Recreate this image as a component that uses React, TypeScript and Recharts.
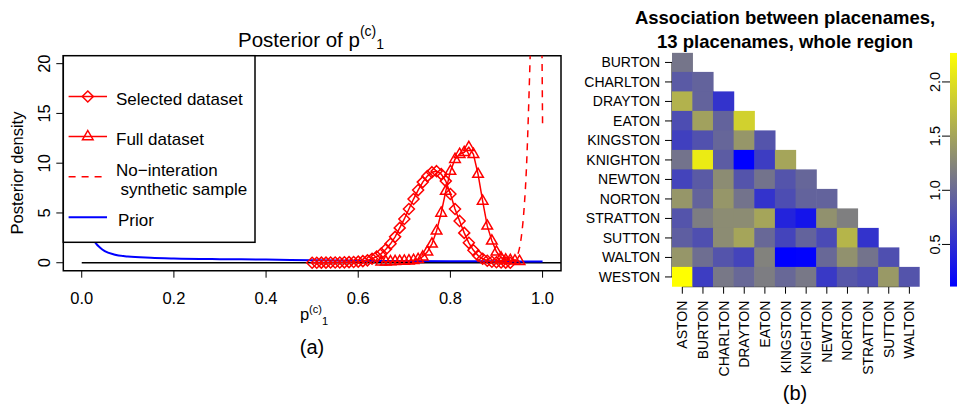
import React from 'react';
import {
  LineChart,
  Line,
  XAxis,
  YAxis,
  ReferenceArea,
  ReferenceLine,
  ScatterChart,
  Scatter,
  BarChart,
  Bar,
} from 'recharts';

const FONT = '"Liberation Sans", Arial, Helvetica, sans-serif';
const RED = '#ff0000';
const BLUE = '#0000ff';

// ---------- panel (a): posterior of p(c)1 ----------
const selectedX = [
  0.5, 0.51, 0.52, 0.53, 0.54, 0.55, 0.56, 0.57, 0.58, 0.59, 0.6, 0.61, 0.62, 0.63, 0.64,
  0.65, 0.66, 0.67, 0.68, 0.69, 0.7, 0.71, 0.72, 0.73, 0.74, 0.75, 0.76, 0.77, 0.78, 0.79,
  0.8, 0.81, 0.82, 0.83, 0.84, 0.85, 0.86, 0.87, 0.88, 0.89, 0.9, 0.91, 0.92, 0.93,
];
const selectedY = [
  0, 0, 0.01, 0.01, 0.02, 0.02, 0.03, 0.04, 0.06, 0.08, 0.11, 0.16, 0.24, 0.4, 0.62,
  0.92, 1.35, 1.9, 2.6, 3.5, 4.4, 5.4, 6.4, 7.3, 8.1, 8.7, 9.1, 9.2, 8.9, 8.2,
  6.9, 5.4, 4.2, 3.0, 2.0, 1.25, 0.72, 0.4, 0.2, 0.1, 0.05, 0.02, 0.01, 0,
];
const fullX = [
  0.65, 0.66, 0.67, 0.68, 0.69, 0.7, 0.71, 0.72, 0.73, 0.74, 0.75, 0.76, 0.77, 0.78, 0.79,
  0.8, 0.81, 0.82, 0.83, 0.84, 0.85, 0.86, 0.87, 0.88, 0.89, 0.9, 0.91, 0.92, 0.93, 0.94, 0.95,
];
const fullY = [
  0.1, 0.1, 0.12, 0.14, 0.16, 0.18, 0.2, 0.25, 0.35, 0.6, 1.1, 1.9, 3.2, 5.0, 7.2,
  9.2, 10.4, 10.9, 11.1, 11.6, 10.9, 8.9, 6.2, 3.7, 2.2, 1.1, 0.5, 0.3, 0.25, 0.2, 0.15,
];
const noInterX = [0.9, 0.92, 0.93, 0.94, 0.945, 0.95, 0.955, 0.96, 0.965, 0.97, 0.975, 0.98, 0.985, 0.99, 0.995, 1.0];
const noInterY = [0, 0.02, 0.08, 0.3, 0.7, 1.5, 3.0, 5.5, 9.5, 16, 24, 33, 41, 45, 38, 14];
const priorX = [0.01, 0.02, 0.03, 0.04, 0.05, 0.07, 0.1, 0.15, 0.2, 0.3, 0.4, 0.5, 0.6, 0.7, 0.8, 0.9, 1.0];
const priorY = [5.2, 2.9, 2.0, 1.5, 1.16, 0.83, 0.63, 0.5, 0.43, 0.36, 0.32, 0.25, 0.2, 0.17, 0.15, 0.14, 0.13];
const zeroX = [0, 1.04];
const zeroY = [0, 0];
const xTicksA = [0, 0.2, 0.4, 0.6, 0.8, 1.0];
const yTicksA = [0, 5, 10, 15, 20];

const toPoints = (xs: number[], ys: number[]) => xs.map((x, i) => ({ x, y: ys[i] }));

// ---------- panel (b): association heatmap ----------
const colNames = ['ASTON', 'BURTON', 'CHARLTON', 'DRAYTON', 'EATON', 'KINGSTON', 'KNIGHTON', 'NEWTON', 'NORTON', 'STRATTON', 'SUTTON', 'WALTON'];
const rowNames = ['BURTON', 'CHARLTON', 'DRAYTON', 'EATON', 'KINGSTON', 'KNIGHTON', 'NEWTON', 'NORTON', 'STRATTON', 'SUTTON', 'WALTON', 'WESTON'];

const burtonRow = [1.1];
const charltonRow = [0.87, 0.95];
const draytonRow = [1.62, 0.95, 0.54];
const eatonRow = [0.76, 1.47, 0.95, 1.88];
const kingstonRow = [0.65, 0.8, 0.97, 1.38, 0.82];
const knightonRow = [1.08, 2.1, 0.89, 0.11, 0.63, 1.51];
const newtonRow = [0.69, 0.87, 1.3, 0.82, 1.08, 0.82, 0.97];
const nortonRow = [1.38, 0.95, 1.38, 1.08, 0.54, 0.76, 0.95, 0.95];
const strattonRow = [0.82, 1.17, 1.3, 1.3, 1.51, 0.41, 0.28, 1.34, 1.19];
const suttonRow = [0.91, 0.78, 1.3, 1.51, 0.99, 0.69, 0.95, 0.74, 1.64, 0.54];
const waltonRow = [1.38, 1.04, 0.82, 0.69, 1.21, 0.11, 0.13, 0.99, 1.34, 1.08, 0.78];
const westonRow = [2.27, 0.63, 1.13, 0.99, 1.17, 0.99, 1.13, 0.59, 0.84, 0.76, 1.41, 0.82];
const assocRows = [
  burtonRow, charltonRow, draytonRow, eatonRow, kingstonRow, knightonRow,
  newtonRow, nortonRow, strattonRow, suttonRow, waltonRow, westonRow,
];
const colorMin = 0.11;
const colorMax = 2.27;
const colorTicks = [0.5, 1.0, 1.5, 2.0];

const cells = assocRows.flatMap((row, r) => row.map((v, c) => ({ x: c, y: r, v })));

const HM_W = 382;
const HM_H = 404;
const HM_MARGIN = { top: 52.7, right: 37.3, bottom: 47.3, left: 0 };
const HM_YAXIS_W = 97;
const HM_XAXIS_H = 70;
const CELL_W = (HM_W - HM_MARGIN.left - HM_MARGIN.right - HM_YAXIS_W) / colNames.length;
const CELL_H = (HM_H - HM_MARGIN.top - HM_MARGIN.bottom - HM_XAXIS_H) / rowNames.length;

const cellColor = (v: number) => {
  const t = Math.max(0, Math.min(1, (v - colorMin) / (colorMax - colorMin)));
  const g = Math.round(255 * t);
  return `rgb(${g},${g},${255 - g})`;
};

const renderCell = (props: any) => {
  const { cx, cy, payload } = props;
  if (cx == null || cy == null) return <g />;
  return (
    <rect
      x={cx - CELL_W / 2 - 0.3}
      y={cy - CELL_H / 2 - 0.3}
      width={CELL_W + 0.6}
      height={CELL_H + 0.6}
      fill={cellColor(payload.v)}
    />
  );
};

const renderDiamond = (props: any) => {
  const { cx, cy, index } = props;
  if (cx == null || cy == null) return <g key={`d${index}`} />;
  const r = 5.5;
  return (
    <path
      key={`d${index}`}
      d={`M${cx},${cy - r}L${cx + r},${cy}L${cx},${cy + r}L${cx - r},${cy}Z`}
      fill="none"
      stroke={RED}
      strokeWidth={1.5}
    />
  );
};

const renderTriangle = (props: any) => {
  const { cx, cy, index } = props;
  if (cx == null || cy == null) return <g key={`t${index}`} />;
  return (
    <path
      key={`t${index}`}
      d={`M${cx},${cy - 6}L${cx + 5.3},${cy + 3.2}L${cx - 5.3},${cy + 3.2}Z`}
      fill="none"
      stroke={RED}
      strokeWidth={1.5}
    />
  );
};

const RotatedYTick = (props: any) => {
  const { x, y, payload, fontSize } = props;
  return (
    <text
      x={x}
      y={y}
      transform={`rotate(-90 ${x} ${y})`}
      textAnchor="middle"
      fontSize={fontSize}
      fontFamily={FONT}
      fill="#000"
    >
      {props.fmt ? props.fmt(payload.value) : payload.value}
    </text>
  );
};

const HeatXTick = (props: any) => {
  const { x, y, payload } = props;
  return (
    <text
      x={x}
      y={y}
      dy="0.36em"
      transform={`rotate(-90 ${x} ${y})`}
      textAnchor="end"
      fontSize={14}
      fontFamily={FONT}
      fill="#000"
    >
      {colNames[payload.value]}
    </text>
  );
};

const Overlay = () => (
  <svg
    width={957}
    height={404}
    style={{ position: 'absolute', left: 0, top: 0, pointerEvents: 'none' }}
    fontFamily={FONT}
  >
    {/* panel (a) title */}
    <text x={311} y={46.7} textAnchor="middle" fontSize={20.5} fill="#000">
      Posterior of p
      <tspan dy={-10.5} fontSize={14}>(c)</tspan>
      <tspan dy={13.2} fontSize={14}>1</tspan>
    </text>
    {/* y label */}
    <text x={23} y={173} transform="rotate(-90 23 173)" textAnchor="middle" fontSize={16.5} fill="#000">
      Posterior density
    </text>
    {/* x label */}
    <text x={314} y={320} textAnchor="middle" fontSize={16.5} fill="#000">
      p
      <tspan dy={-7.5} fontSize={11}>(c)</tspan>
      <tspan dy={12.5} fontSize={11}>1</tspan>
    </text>
    <text x={312} y={354} textAnchor="middle" fontSize={20} fill="#000">(a)</text>

    {/* legend */}
    <rect x={63.3} y={55.7} width={191.7} height={186.6} fill="#fff" stroke="#000" strokeWidth={1.5} />
    <line x1={68.6} x2={107} y1={96.5} y2={96.5} stroke={RED} strokeWidth={1.5} />
    {renderDiamond({ cx: 87.8, cy: 96.5, index: 'leg' })}
    <text x={116} y={104.5} fontSize={17} fill="#000">Selected dataset</text>
    <line x1={68.6} x2={107} y1={136.5} y2={136.5} stroke={RED} strokeWidth={1.5} />
    {renderTriangle({ cx: 87.8, cy: 136.5, index: 'leg' })}
    <text x={116} y={144.5} fontSize={17} fill="#000">Full dataset</text>
    <line x1={68.6} x2={107} y1={176.7} y2={176.7} stroke={RED} strokeWidth={1.5} strokeDasharray="7 6" />
    <text x={116} y={176} fontSize={17} fill="#000">No−interation</text>
    <text x={120.5} y={194.7} fontSize={17} fill="#000">synthetic sample</text>
    <line x1={68.6} x2={107} y1={217.3} y2={217.3} stroke={BLUE} strokeWidth={2} />
    <text x={118} y={226} fontSize={17} fill="#000">Prior</text>

    {/* panel (b) title */}
    <text x={785} y={24} textAnchor="middle" fontSize={18.5} fontWeight="bold" fill="#000">
      Association between placenames,
    </text>
    <text x={785} y={48.3} textAnchor="middle" fontSize={18.5} fontWeight="bold" fill="#000">
      13 placenames, whole region
    </text>
    <text x={795} y={400} textAnchor="middle" fontSize={20} fill="#000">(b)</text>
  </svg>
);

export default function App() {
  return (
    <div
      style={{
        position: 'absolute',
        left: 0,
        top: 0,
        width: 957,
        height: 404,
        overflow: 'hidden',
        background: '#fff',
        fontFamily: FONT,
      }}
    >
      <div style={{ position: 'absolute', left: 0, top: 0 }}>
        <LineChart width={575} height={404} margin={{ top: 55.7, right: 14, bottom: 93.3, left: 0 }}>
          <XAxis
            type="number"
            dataKey="x"
            domain={[-0.04, 1.04]}
            ticks={xTicksA}
            interval={0}
            allowDataOverflow
            height={40}
            axisLine={false}
            tickLine={{ stroke: '#000', strokeWidth: 1 }}
            tickSize={7}
            tickMargin={15}
            tickFormatter={(v: number) => v.toFixed(1)}
            tick={{ fontSize: 16.5, fill: '#000', fontFamily: FONT }}
          />
          <YAxis
            type="number"
            dataKey="y"
            domain={[-0.8, 20.8]}
            ticks={yTicksA}
            interval={0}
            allowDataOverflow
            width={63.3}
            axisLine={false}
            tickLine={{ stroke: '#000', strokeWidth: 1 }}
            tickSize={7}
            tickMargin={6.3}
            tick={<RotatedYTick fontSize={16.5} />}
          />
          <ReferenceArea x1={-0.04} x2={1.04} y1={-0.8} y2={20.8} fill="none" stroke="#000" strokeWidth={1.5} ifOverflow="visible" />
          <Line data={toPoints(zeroX, zeroY)} dataKey="y" stroke="#000" strokeWidth={1.5} dot={false} isAnimationActive={false} />
          <Line data={toPoints(priorX, priorY)} dataKey="y" type="monotone" stroke={BLUE} strokeWidth={2} dot={false} isAnimationActive={false} />
          <Line data={toPoints(noInterX, noInterY)} dataKey="y" type="monotone" stroke={RED} strokeWidth={1.5} strokeDasharray="7 6" dot={false} isAnimationActive={false} />
          <Line data={toPoints(selectedX, selectedY)} dataKey="y" stroke={RED} strokeWidth={1.5} dot={renderDiamond} isAnimationActive={false} />
          <Line data={toPoints(fullX, fullY)} dataKey="y" stroke={RED} strokeWidth={1.5} dot={renderTriangle} isAnimationActive={false} />
        </LineChart>
      </div>

      <div style={{ position: 'absolute', left: 575, top: 0 }}>
        <ScatterChart width={HM_W} height={HM_H} margin={HM_MARGIN}>
          <XAxis
            type="number"
            dataKey="x"
            domain={[-0.5, colNames.length - 0.5]}
            ticks={colNames.map((_, i) => i)}
            interval={0}
            allowDataOverflow
            height={HM_XAXIS_H}
            axisLine={false}
            tickLine={{ stroke: '#000', strokeWidth: 1 }}
            tickSize={7}
            tickMargin={7}
            tick={<HeatXTick />}
          />
          <YAxis
            type="number"
            dataKey="y"
            reversed
            domain={[-0.5, rowNames.length - 0.5]}
            ticks={rowNames.map((_, i) => i)}
            interval={0}
            allowDataOverflow
            width={HM_YAXIS_W}
            axisLine={false}
            tickLine={{ stroke: '#000', strokeWidth: 1 }}
            tickSize={7}
            tickMargin={5}
            tickFormatter={(v: number) => rowNames[v]}
            tick={{ fontSize: 14, fill: '#000', fontFamily: FONT }}
          />
          <Scatter data={cells} shape={renderCell} isAnimationActive={false} />
          <ReferenceLine
            segment={[{ x: 0, y: rowNames.length - 0.5 }, { x: colNames.length - 1, y: rowNames.length - 0.5 }]}
            stroke="#000"
            strokeWidth={1}
            ifOverflow="visible"
          />
          <ReferenceLine
            segment={[{ x: -0.5, y: 0 }, { x: -0.5, y: rowNames.length - 1 }]}
            stroke="#000"
            strokeWidth={1}
            ifOverflow="visible"
          />
        </ScatterChart>
      </div>

      <div style={{ position: 'absolute', left: 900, top: 0 }}>
        <BarChart
          width={70}
          height={404}
          data={[{ name: 'scale', hi: colorMax }]}
          margin={{ top: 52.7, right: 2, bottom: 117.3, left: 0 }}
          barCategoryGap={0}
        >
          <defs>
            <linearGradient id="cbarGrad" x1="0" y1="1" x2="0" y2="0">
              <stop offset="0%" stopColor="#0000ff" />
              <stop offset="100%" stopColor="#ffff00" />
            </linearGradient>
          </defs>
          <XAxis dataKey="name" hide />
          <YAxis
            type="number"
            domain={[colorMin, colorMax]}
            ticks={colorTicks}
            interval={0}
            allowDataOverflow
            width={50}
            axisLine={false}
            tickLine={{ stroke: '#000', strokeWidth: 1 }}
            tickSize={8}
            tickMargin={2}
            tick={<RotatedYTick fontSize={14.5} fmt={(v: number) => v.toFixed(1)} />}
          />
          <Bar dataKey="hi" fill="url(#cbarGrad)" isAnimationActive={false} />
        </BarChart>
      </div>

      <Overlay />
    </div>
  );
}
